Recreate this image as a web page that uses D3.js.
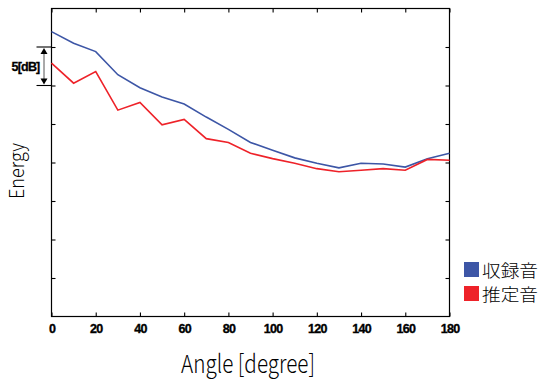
<!DOCTYPE html>
<html>
<head>
<meta charset="utf-8">
<script src="https://cdn.jsdelivr.net/npm/d3@7"></script>
<style>
  body { margin: 0; background: #fff; }
  svg { display: block; }
</style>
</head>
<body>
<div id="chart"></div>
<script>
// angles in degrees, energy relative dB
const angles = [0, 10, 20, 30, 40, 50, 60, 70, 80, 90, 100, 110, 120, 130, 140, 150, 160, 170, 180];
const recorded = [-3.0, -4.5, -5.6, -8.6, -10.3, -11.5, -12.4, -14.1, -15.7, -17.4, -18.4, -19.4, -20.1, -20.7, -20.1, -20.2, -20.6, -19.5, -18.8];
const estimated = [-7.1, -9.7, -8.2, -13.2, -12.2, -15.1, -14.4, -16.9, -17.4, -18.8, -19.5, -20.1, -20.8, -21.2, -21.0, -20.8, -21.0, -19.6, -19.7];
const xTicks = [0, 20, 40, 60, 80, 100, 120, 140, 160, 180];
const yTicks = [-5, -10, -15, -20, -25, -30, -35];
const seriesNames = ['収録音', '推定音'];
const colors = ['#3d56a6', '#ee2229'];

const W = 539, H = 380;
const margin = {top: 8.5, right: 89.5, bottom: 63.5, left: 51.5};
const width = W - margin.left - margin.right;
const height = H - margin.top - margin.bottom;

const svg = d3.select('#chart').append('svg')
    .attr('width', W)
    .attr('height', H);

const g = svg.append('g')
    .attr('transform', 'translate(' + margin.left + ',' + margin.top + ')');

const x = d3.scaleLinear().domain([0, 180]).range([0, width]);
const y = d3.scaleLinear().domain([-40, 0]).range([height, 0]);

// frame
g.append('rect')
    .attr('width', width).attr('height', height)
    .attr('fill', 'none').attr('stroke', '#000').attr('stroke-width', 1.2);

// inward ticks on all four sides
g.append('g').attr('transform', 'translate(0,' + height + ')')
    .call(d3.axisBottom(x).tickValues(xTicks).tickSizeInner(-4).tickSizeOuter(0)
        .tickPadding(8))
    .call((s) => s.select('.domain').remove())
    .call((s) => s.selectAll('text')
        .attr('font-family', 'Liberation Sans, Arial, sans-serif')
        .attr('font-weight', 'bold').attr('font-size', 12.5)
        .attr('letter-spacing', -0.7).attr('fill', '#000')
        .attr('stroke', '#000').attr('stroke-width', 0.35));

g.append('g')
    .call(d3.axisTop(x).tickValues(xTicks).tickSizeInner(-4).tickSizeOuter(0)
        .tickFormat(''))
    .call((s) => s.select('.domain').remove());

g.append('g')
    .call(d3.axisLeft(y).tickValues(yTicks).tickSizeInner(-4).tickSizeOuter(0)
        .tickFormat(''))
    .call((s) => s.select('.domain').remove());

g.append('g').attr('transform', 'translate(' + width + ',0)')
    .call(d3.axisRight(y).tickValues(yTicks).tickSizeInner(-4).tickSizeOuter(0)
        .tickFormat(''))
    .call((s) => s.select('.domain').remove());

g.selectAll('.tick line').attr('stroke', '#000').attr('stroke-width', 1.1);

// series lines
const line = d3.line()
    .x((d, i) => x(angles[i]))
    .y((d) => y(d));

[recorded, estimated].forEach((vals, k) => {
  g.append('path')
      .datum(vals)
      .attr('fill', 'none')
      .attr('stroke', colors[k])
      .attr('stroke-width', 1.6)
      .attr('d', line);
});

// 5 dB scale bar on the left
const bar = g.append('g');
[-5, -10].forEach((v) => {
  bar.append('line')
      .attr('x1', -15).attr('x2', 0)
      .attr('y1', y(v)).attr('y2', y(v))
      .attr('stroke', '#000').attr('stroke-width', 1.1);
});
bar.append('line')
    .attr('x1', -7.5).attr('x2', -7.5)
    .attr('y1', y(-5) + 4).attr('y2', y(-10) - 4)
    .attr('stroke', '#555').attr('stroke-width', 1);
bar.append('path')
    .attr('d', 'M' + (-7.5) + ',' + (y(-5) + 1) + 'l-3.5,6h7z')
    .attr('fill', '#000');
bar.append('path')
    .attr('d', 'M' + (-7.5) + ',' + (y(-10) - 1) + 'l-3.5,-6h7z')
    .attr('fill', '#000');
bar.append('text')
    .attr('x', -26).attr('y', y(-7.5) + 4.5)
    .attr('text-anchor', 'middle')
    .attr('font-family', 'Liberation Sans, Arial, sans-serif')
    .attr('font-weight', 'bold').attr('font-size', 12.5)
    .attr('letter-spacing', -0.8)
    .attr('stroke', '#000').attr('stroke-width', 0.3)
    .text('5[dB]');

// axis titles
svg.append('text')
    .attr('x', 248).attr('y', 373)
    .attr('text-anchor', 'middle')
    .attr('font-family', 'Noto Sans CJK JP, sans-serif')
    .attr('font-weight', 300).attr('font-size', 25)
    .attr('textLength', 134).attr('lengthAdjust', 'spacingAndGlyphs')
    .text('Angle [degree]');

svg.append('text')
    .attr('transform', 'translate(24,171) rotate(-90)')
    .attr('text-anchor', 'middle')
    .attr('font-family', 'Noto Sans CJK JP, sans-serif')
    .attr('font-weight', 300).attr('font-size', 20)
    .attr('textLength', 56).attr('lengthAdjust', 'spacingAndGlyphs')
    .text('Energy');

// legend
const legend = svg.append('g').attr('transform', 'translate(464,262)');
seriesNames.forEach((name, i) => {
  const row = legend.append('g').attr('transform', 'translate(0,' + (i * 24) + ')');
  row.append('rect')
      .attr('width', 15).attr('height', 15)
      .attr('fill', colors[i]);
  row.append('text')
      .attr('x', 18).attr('y', 14.5)
      .attr('font-family', 'Noto Sans CJK JP, sans-serif')
      .attr('font-weight', 300).attr('font-size', 17.5)
      .attr('textLength', 56).attr('lengthAdjust', 'spacingAndGlyphs')
      .text(name);
});
</script>
</body>
</html>
